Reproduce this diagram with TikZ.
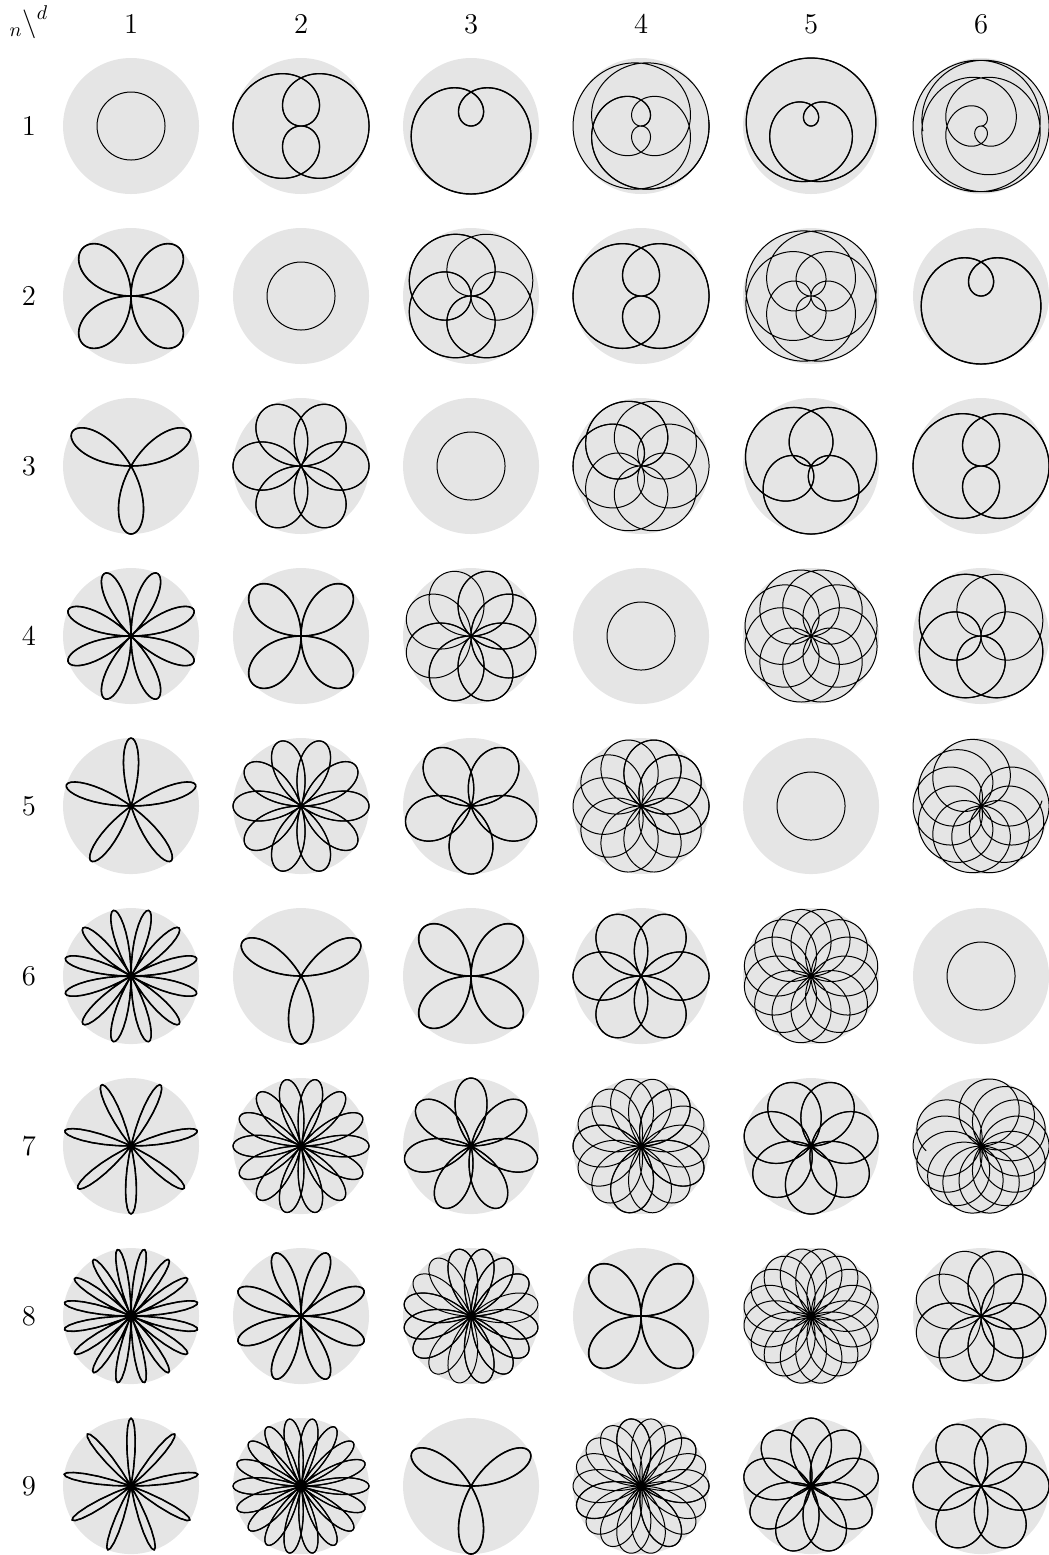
\documentclass[tikz,border=0pt]{standalone}
\usepackage{amsmath}

\begin{document}
\begin{tikzpicture}[x=1cm,y=1cm,font=\Large,
  disc/.style={fill=black!10},
  rose/.style={line join=round,variable=\t}]
\useasboundingbox (0.688,-0.7765) rectangle ++(18.51,-27.44);
\node[inner sep=0pt] (corner) at (1.2,-1.17) {${}_n\backslash{}^{\raisebox{1pt}{$\scriptstyle d$}}$};
% column heads
\foreach \d in {1,...,6}{ \node (D\d) at (3*\d,-1.2) {$\d$}; }
% one row of roses for each n
\foreach \n in {1,...,9}{
  \node (N\n) at (1.2,-3*\n) {$\n$};
  \foreach \d in {1,...,6}{
    \fill[disc] (3*\d,-3*\n) circle (1.2);
    \ifnum\n=\d
      \draw[line width=0.5pt] (3*\d,-3*\n) circle (0.6);
    \else
      % P = period of the curve in degrees, 1805 = what is plotted
      \pgfmathtruncatemacro\g{gcd(\n,\d)}
      \pgfmathtruncatemacro\p{\n/\g}
      \pgfmathtruncatemacro\q{\d/\g}
      \pgfmathtruncatemacro\P{180*\q*(mod(\p*\q,2)==1 ? 1 : 2)}
      \pgfmathtruncatemacro\E{min(\P,1805)}
      \pgfmathtruncatemacro\S{\E/1.667+2}
      \draw[rose,line width=0.5pt,domain=0:\E,samples=\S,shift={(3*\d,-3*\n)}] plot
        ({1.2*sin(\n*\t/\d)*cos(\t)},{1.2*sin(\n*\t/\d)*sin(\t)});
      % parts traced again come out heavier
      \ifnum\P<1795
        \pgfmathtruncatemacro\R{min(\P,1805-\P)}
        \pgfmathtruncatemacro\S{\R/1.667+2}
        \pgfmathsetmacro\W{min(0.5+0.06*1805/\P,0.8)}
        \draw[rose,line width=\W pt,domain=0:\R,samples=\S,shift={(3*\d,-3*\n)}] plot
          ({1.2*sin(\n*\t/\d)*cos(\t)},{1.2*sin(\n*\t/\d)*sin(\t)});
      \fi
    \fi
  }
}
\end{tikzpicture}
\end{document}
